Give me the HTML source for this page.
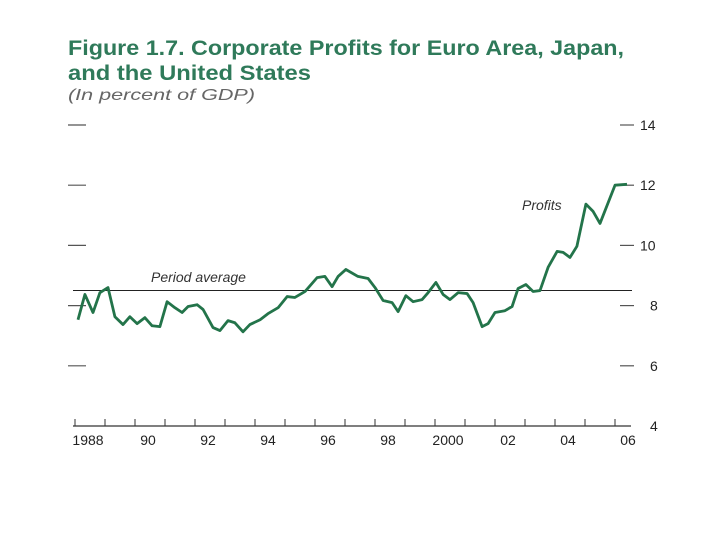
<!DOCTYPE html>
<html><head><meta charset="utf-8"><style>
html,body{margin:0;padding:0;background:#fff;}
svg{display:block;font-family:"Liberation Sans",sans-serif;}
</style></head><body>
<svg id="chart" width="720" height="540">
<text x="68" y="55" font-size="21" font-weight="bold" fill="#2f7a5a" textLength="556" lengthAdjust="spacingAndGlyphs">Figure 1.7. Corporate Profits for Euro Area, Japan,</text>
<text x="68" y="80" font-size="21" font-weight="bold" fill="#2f7a5a" textLength="243" lengthAdjust="spacingAndGlyphs">and the United States</text>
<text x="68" y="100" font-size="16" font-style="italic" fill="#666" textLength="187" lengthAdjust="spacingAndGlyphs">(In percent of GDP)</text>
<g id="axes"></g>
<g id="series"></g>
<text x="151" y="282" font-size="14" font-style="italic" fill="#333">Period average</text>
<text x="522" y="210" font-size="14" font-style="italic" fill="#333">Profits</text>
</svg>
<script>
const years=[1988.1,1988.33,1988.6,1988.83,1989.1,1989.33,1989.6,1989.83,1990.07,1990.33,1990.57,1990.83,1991.07,1991.33,1991.57,1991.77,1992.07,1992.27,1992.6,1992.83,1993.1,1993.33,1993.6,1993.83,1994.17,1994.43,1994.77,1995.07,1995.33,1995.67,1996.07,1996.33,1996.57,1996.77,1997.03,1997.43,1997.77,1998.0,1998.27,1998.57,1998.77,1999.03,1999.27,1999.57,1999.77,2000.03,2000.27,2000.5,2000.77,2001.07,2001.27,2001.57,2001.77,2002.0,2002.33,2002.57,2002.77,2003.03,2003.27,2003.5,2003.77,2004.07,2004.27,2004.5,2004.73,2005.03,2005.27,2005.5,2006.0,2006.4];
const values=[7.53,8.37,7.77,8.43,8.6,7.63,7.37,7.63,7.4,7.6,7.33,7.3,8.13,7.93,7.77,7.97,8.03,7.87,7.27,7.17,7.5,7.43,7.13,7.37,7.53,7.73,7.93,8.3,8.27,8.47,8.93,8.97,8.63,8.97,9.2,8.97,8.9,8.6,8.17,8.1,7.8,8.33,8.13,8.2,8.43,8.77,8.37,8.2,8.43,8.4,8.1,7.3,7.4,7.77,7.83,7.97,8.57,8.7,8.47,8.5,9.27,9.8,9.77,9.6,9.97,11.37,11.13,10.73,12.0,12.03];
const periodAverage=8.5;
const yTicks=[4,6,8,10,12,14];
const xLabels=["1988","90","92","94","96","98","2000","02","04","06"];
const xLabelYears=[1988,1990,1992,1994,1996,1998,2000,2002,2004,2006];
const x0=75,pxYear=30,y0=426,pxUnit=30.1;
const X=y=>x0+(y-1988)*pxYear;
const Y=v=>y0-(v-4)*pxUnit;
const NS="http://www.w3.org/2000/svg";
const axes=document.getElementById('axes'),ser=document.getElementById('series');
function mk(tag,at,parent){const e=document.createElementNS(NS,tag);for(const k in at)e.setAttribute(k,at[k]);parent.appendChild(e);return e;}
let ax=mk('line',{x1:73,x2:631,y1:y0,y2:y0,stroke:'#333','stroke-width':1.2},axes);


for(let i=0;i<=18;i++){let t=mk('line',{x1:X(1988+i),x2:X(1988+i),y1:y0-7,y2:y0,stroke:'#333','stroke-width':1},axes);

}
xLabels.forEach((l,i)=>{let t=mk('text',{x:X(xLabelYears[i])+13,y:y0+19,'font-size':14,'text-anchor':'middle',fill:'#222'},axes);t.textContent=l;

});
yTicks.forEach(v=>{const yy=Y(v);
if(v>4){let l=mk('line',{x1:68,x2:86,y1:yy,y2:yy,stroke:'#555','stroke-width':1.2},axes);


let r=mk('line',{x1:620,x2:634,y1:yy,y2:yy,stroke:'#555','stroke-width':1.2},axes);

}
let t=mk('text',{x:v>=10?640:650,y:yy+5,'font-size':14,fill:'#222'},axes);t.textContent=v;

});
let avg=mk('line',{x1:73,x2:632,y1:Y(periodAverage),y2:Y(periodAverage),stroke:'#222','stroke-width':1},ser);


let p=mk('polyline',{points:years.map((y,i)=>X(y)+','+Y(values[i])).join(' '),fill:'none',stroke:'#23744a','stroke-width':2.8,'stroke-linejoin':'round'},ser);


</script>
</body></html>
